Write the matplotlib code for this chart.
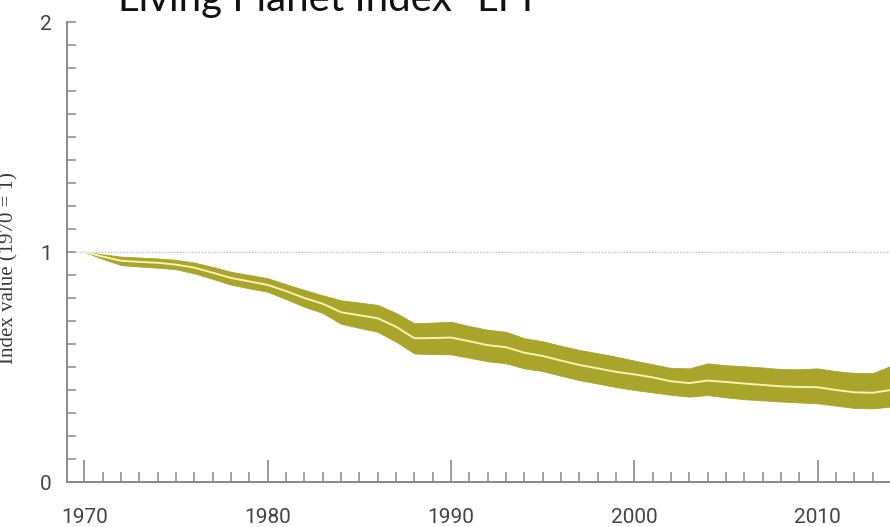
"""Living Planet Index (1970 = 1) with confidence band."""

import matplotlib

matplotlib.use("Agg")
import matplotlib.pyplot as plt
from matplotlib.ticker import MultipleLocator
import numpy as np

YEARS = np.arange(1970, 2015)
INDEX = [
    1.0, 0.98, 0.962, 0.957, 0.953, 0.945, 0.932, 0.91, 0.887, 0.872,
    0.857, 0.83, 0.80, 0.775, 0.738, 0.725, 0.712, 0.675, 0.625, 0.626,
    0.628, 0.612, 0.595, 0.586, 0.562, 0.548, 0.528, 0.509, 0.494, 0.479,
    0.468, 0.455, 0.438, 0.43, 0.441, 0.435, 0.428, 0.422, 0.416, 0.413,
    0.412, 0.40, 0.39, 0.388, 0.40,
]
UPPER = [
    1.0, 0.99, 0.98, 0.976, 0.972, 0.966, 0.954, 0.935, 0.914, 0.90,
    0.886, 0.86, 0.835, 0.812, 0.79, 0.78, 0.77, 0.735, 0.69, 0.693,
    0.697, 0.678, 0.662, 0.653, 0.625, 0.612, 0.592, 0.574, 0.56, 0.545,
    0.528, 0.512, 0.496, 0.494, 0.516, 0.508, 0.503, 0.498, 0.491, 0.49,
    0.494, 0.482, 0.474, 0.473, 0.505,
]
LOWER = [
    1.0, 0.97, 0.943, 0.937, 0.932, 0.925, 0.907, 0.883, 0.858, 0.842,
    0.827, 0.795, 0.762, 0.735, 0.688, 0.67, 0.653, 0.61, 0.559, 0.556,
    0.555, 0.54, 0.525, 0.516, 0.494, 0.482, 0.462, 0.443, 0.428, 0.413,
    0.40, 0.39, 0.379, 0.371, 0.378, 0.368, 0.36, 0.355, 0.35, 0.346,
    0.342, 0.332, 0.322, 0.32, 0.328,
]

TITLE = "Living Planet Index- LPI"
Y_LABEL = "Index value (1970 = 1)"

BAND_COLOR = "#a9a42a"
LINE_COLOR = "#f7f2b4"
AXIS_GRAY = "#8a8a8a"
TICK_FONT = "Roboto"


def main() -> None:
    fig = plt.figure(figsize=(8.9, 5.27), dpi=100)
    ax = fig.add_axes([67 / 890, 1 - 482 / 527, 1 - 67 / 890, 460 / 527])

    ax.fill_between(YEARS, LOWER, UPPER, color=BAND_COLOR, linewidth=0.6,
                    edgecolor=BAND_COLOR, zorder=2)
    ax.plot(YEARS, INDEX, color=LINE_COLOR, linewidth=1.4, zorder=3)
    ax.axhline(1.0, color="#bbbbbb", linestyle=(0, (1, 1.5)), linewidth=0.9, zorder=1)

    ax.set_xlim(1969.05, 2013.95)
    ax.set_ylim(0, 2)

    for side in ("top", "right"):
        ax.spines[side].set_visible(False)
    for side in ("left", "bottom"):
        ax.spines[side].set_color(AXIS_GRAY)
        ax.spines[side].set_linewidth(1.4)

    ax.xaxis.set_major_locator(MultipleLocator(10))
    ax.xaxis.set_minor_locator(MultipleLocator(1))
    ax.yaxis.set_major_locator(MultipleLocator(1))
    ax.yaxis.set_minor_locator(MultipleLocator(0.1))

    ax.tick_params(axis="x", which="major", direction="in", length=16,
                   width=1.2, color=AXIS_GRAY, pad=19, labelsize=15,
                   labelcolor="#444444", labelfontfamily=TICK_FONT)
    ax.tick_params(axis="x", which="minor", direction="in", length=7,
                   width=1.1, color=AXIS_GRAY)
    ax.tick_params(axis="y", which="both", direction="in", length=6.5,
                   width=1.1, color=AXIS_GRAY, pad=11, labelsize=15,
                   labelcolor="#444444", labelfontfamily=TICK_FONT)

    ax.set_ylabel(Y_LABEL, family=["Liberation Serif", "DejaVu Serif"],
                  fontsize=15, color="#3a3a3a")
    ax.yaxis.set_label_coords(-49 / 823, 0.465)

    fig.text(118 / 890, 1 - 11.5 / 527, TITLE, family=["Lato", "DejaVu Sans"],
             fontsize=29, color="#111111", va="baseline", ha="left")

    fig.savefig("out.png", dpi=100)


if __name__ == "__main__":
    main()
